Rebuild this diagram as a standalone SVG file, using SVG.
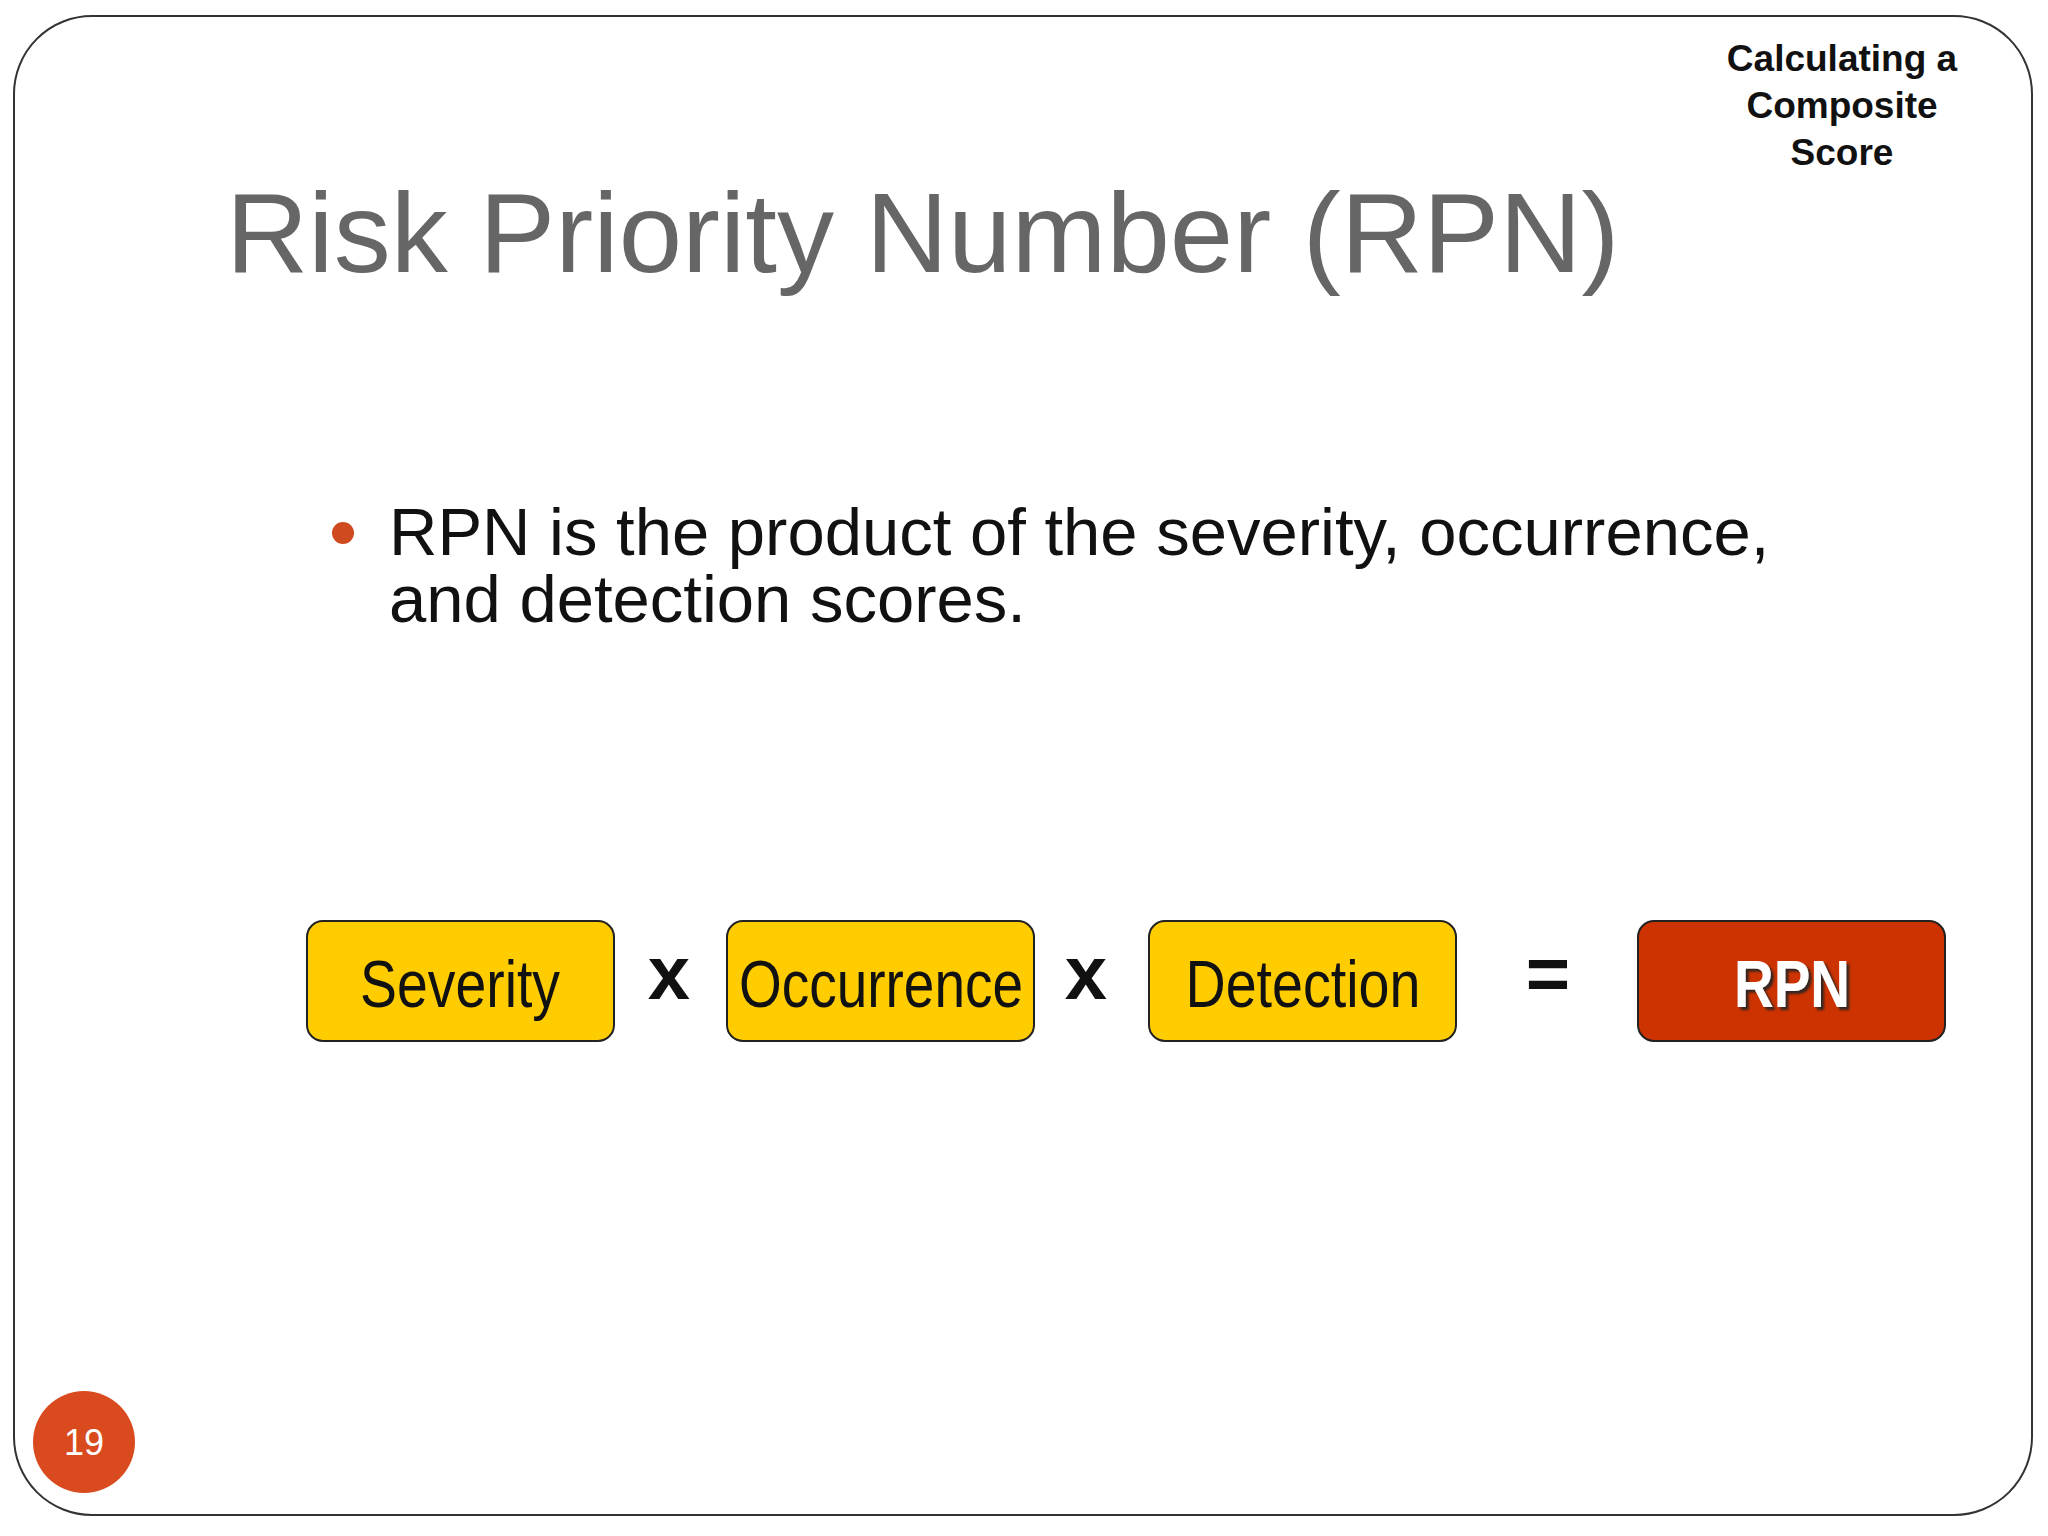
<svg xmlns="http://www.w3.org/2000/svg" width="2048" height="1536" viewBox="0 0 2048 1536">
<defs><filter id="sh" x="-10%" y="-10%" width="130%" height="130%"><feDropShadow dx="3" dy="3" stdDeviation="1" flood-color="#222" flood-opacity="0.9"/></filter></defs>
<style>
.box{fill:#FFCC00;stroke:#222;stroke-width:2}
.lbl{font-family:"Liberation Sans Narrow","Liberation Sans",sans-serif;font-size:66px;fill:#111;text-anchor:middle}
.op{font-family:"Liberation Sans",sans-serif;font-weight:bold;font-size:76px;fill:#111;text-anchor:middle}
</style>
<rect width="2048" height="1536" fill="#fff"/>
<rect x="14" y="16" width="2018" height="1499" rx="78" fill="#fff" stroke="#333" stroke-width="2"/>
<text x="226" y="272" font-family="Liberation Sans, sans-serif" font-size="114" fill="#666">Risk Priority Number (RPN)</text>
<g font-family="Liberation Sans, sans-serif" font-weight="bold" font-size="37" fill="#111" text-anchor="middle">
<text x="1842" y="71">Calculating a</text>
<text x="1842" y="118">Composite</text>
<text x="1842" y="165">Score</text>
</g>
<circle cx="343" cy="533" r="11" fill="#D04A1F"/>
<g font-family="Liberation Sans, sans-serif" font-size="67" fill="#111">
<text x="389" y="555">RPN is the product of the severity, occurrence,</text>
<text x="389" y="622">and detection scores.</text>
</g>
<g id="severity"><rect class="box" x="307" y="921" width="307" height="120" rx="16"/><text class="lbl" x="460" y="1007" textLength="200" lengthAdjust="spacingAndGlyphs">Severity</text></g>
<g id="occurrence"><rect class="box" x="727" y="921" width="307" height="120" rx="16"/><text class="lbl" x="881" y="1007" textLength="284" lengthAdjust="spacingAndGlyphs">Occurrence</text></g>
<g id="detection"><rect class="box" x="1149" y="921" width="307" height="120" rx="16"/><text class="lbl" x="1303" y="1007" textLength="235" lengthAdjust="spacingAndGlyphs">Detection</text></g>
<g id="rpn"><rect x="1638" y="921" width="307" height="120" rx="16" fill="#CC3300" stroke="#222" stroke-width="2"/>
<text x="1792" y="1007" filter="url(#sh)" font-family="Liberation Sans Narrow, Liberation Sans, sans-serif" font-weight="bold" font-size="66" fill="#fff" text-anchor="middle" textLength="116" lengthAdjust="spacingAndGlyphs">RPN</text></g>
<g id="connectors">
<text class="op" x="669" y="999">x</text>
<text class="op" x="1086" y="999">x</text>
<text class="op" x="1548" y="1000">=</text>
</g>
<circle cx="84" cy="1442" r="51" fill="#D94A1E"/>
<text x="84" y="1455" font-family="Liberation Sans, sans-serif" font-size="36" fill="#fff" text-anchor="middle">19</text>
</svg>
